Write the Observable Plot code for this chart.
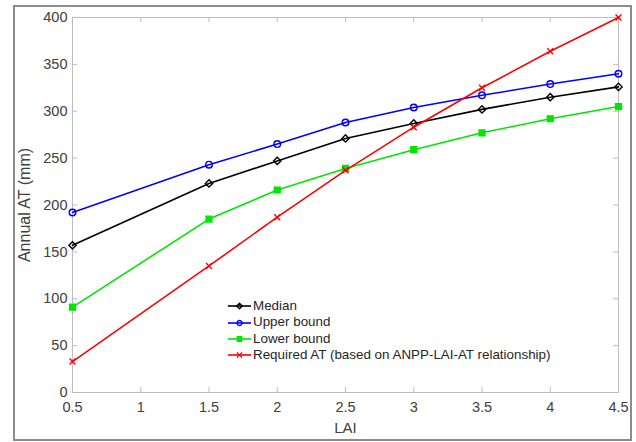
<!DOCTYPE html>
<html><head><meta charset="utf-8">
<script src="https://cdn.jsdelivr.net/npm/d3@7"></script>
<script src="https://cdn.jsdelivr.net/npm/@observablehq/plot@0.6"></script>
<style>
body{margin:0;background:#fff;font-family:"Liberation Sans",Arial,sans-serif;}
#wrap{position:relative;width:636px;height:442px;overflow:hidden;}
#border{position:absolute;left:13px;top:5px;width:619px;height:436px;border:2px solid #8c8c8c;box-sizing:border-box;pointer-events:none;}
#legend{position:absolute;left:228px;top:298px;font-size:13.4px;color:#262626;line-height:16.4px;}
#legend .row{display:flex;align-items:center;height:16.4px;white-space:nowrap;}
#legend svg{margin-right:2px;}
</style></head>
<body><div id="wrap"><div id="chart"></div><div id="border"></div><div id="legend"></div></div>
<script>
const lai = [0.5, 1.5, 2, 2.5, 3, 3.5, 4, 4.5];
const median = [157, 223, 247, 271, 287, 302, 315, 326];
const upper = [192, 243, 265, 288, 304, 317, 329, 340];
const lower = [91, 185, 216, 239, 259, 277, 292, 305];
const required = [33, 135, 187, 237, 283, 325, 364, 400];
const seriesNames = ["Median", "Upper bound", "Lower bound", "Required AT (based on ANPP-LAI-AT relationship)"];
const seriesColors = ["#000000", "#0000ff", "#00e600", "#ff0000"];
const seriesSymbols = ["diamond2", "circle", "square", "times"];
const seriesFilled = [false, false, true, false];
const xTicks = [0.5, 1, 1.5, 2, 2.5, 3, 3.5, 4, 4.5];
const yTicks = [0, 50, 100, 150, 200, 250, 300, 350, 400];

const seriesValues = [median, upper, lower, required];
const rows = [];
seriesValues.forEach((vals, i) => vals.forEach((v, j) => rows.push({series: seriesNames[i], x: lai[j], y: v, i})));

const W = 636, H = 442, mt = 17, mb = 50, ml = 72, mr = 18;
const iw = W - ml - mr, ih = H - mt - mb;
const tickCol = "#bdbdbd", textCol = "#404040";

const marks = [
  Plot.frame({stroke: tickCol}),
  Plot.gridX(xTicks, {stroke: tickCol, strokeOpacity: 1, insetTop: ih - 5}),
  Plot.gridX(xTicks, {stroke: tickCol, strokeOpacity: 1, insetBottom: ih - 5}),
  Plot.gridY(yTicks, {stroke: tickCol, strokeOpacity: 1, insetRight: iw - 5}),
  Plot.gridY(yTicks, {stroke: tickCol, strokeOpacity: 1, insetLeft: iw - 5}),
  Plot.axisX(xTicks, {tickSize: 0, tickPadding: 9, fontSize: 14.5, color: textCol, tickFormat: d => String(d),
    label: "LAI", labelAnchor: "center", labelArrow: "none", labelOffset: 40}),
  Plot.axisY(yTicks, {tickSize: 0, tickPadding: 5, fontSize: 14.5, color: textCol,
    label: "Annual AT (mm)", labelAnchor: "center", labelArrow: "none", labelOffset: 54})
];
seriesNames.forEach((name, i) => {
  const d = rows.filter(r => r.i === i);
  marks.push(Plot.line(d, {x: "x", y: "y", stroke: seriesColors[i], strokeWidth: 1.6}));
  marks.push(Plot.dot(d, {x: "x", y: "y", symbol: () => seriesSymbols[i], r: seriesSymbols[i] === "times" ? 2.8 : 3.3,
    stroke: seriesColors[i], fill: seriesFilled[i] ? seriesColors[i] : "none", strokeWidth: 1.4}));
});

const chart = Plot.plot({
  width: W, height: H, marginTop: mt, marginBottom: mb, marginLeft: ml, marginRight: mr,
  x: {domain: [0.5, 4.5]},
  y: {domain: [0, 400]},
  style: {fontFamily: '"Liberation Sans", Arial, sans-serif', color: textCol, background: "#fff"},
  marks
});
chart.querySelectorAll('[aria-label="x-axis label"] text').forEach(t => t.setAttribute("font-size", "15"));
chart.querySelectorAll('[aria-label="y-axis label"] text').forEach(t => t.setAttribute("font-size", "16"));
document.getElementById("chart").appendChild(chart);

// legend
const leg = d3.select("#legend");
seriesNames.forEach((name, i) => {
  const row = leg.append("div").attr("class", "row");
  const s = row.append("svg").attr("width", 23).attr("height", 12);
  s.append("line").attr("x1", 0).attr("x2", 23).attr("y1", 6).attr("y2", 6).attr("stroke", seriesColors[i]).attr("stroke-width", 1.6);
  const sym = {diamond2: d3.symbolDiamond2, circle: d3.symbolCircle, square: d3.symbolSquare, times: d3.symbolTimes}[seriesSymbols[i]];
  s.append("path").attr("transform", "translate(11.5,6)").attr("d", d3.symbol(sym, 20)())
    .attr("stroke", seriesColors[i]).attr("fill", seriesFilled[i] ? seriesColors[i] : "none").attr("stroke-width", 1.3);
  row.append("span").text(name);
});
</script>
</body></html>
